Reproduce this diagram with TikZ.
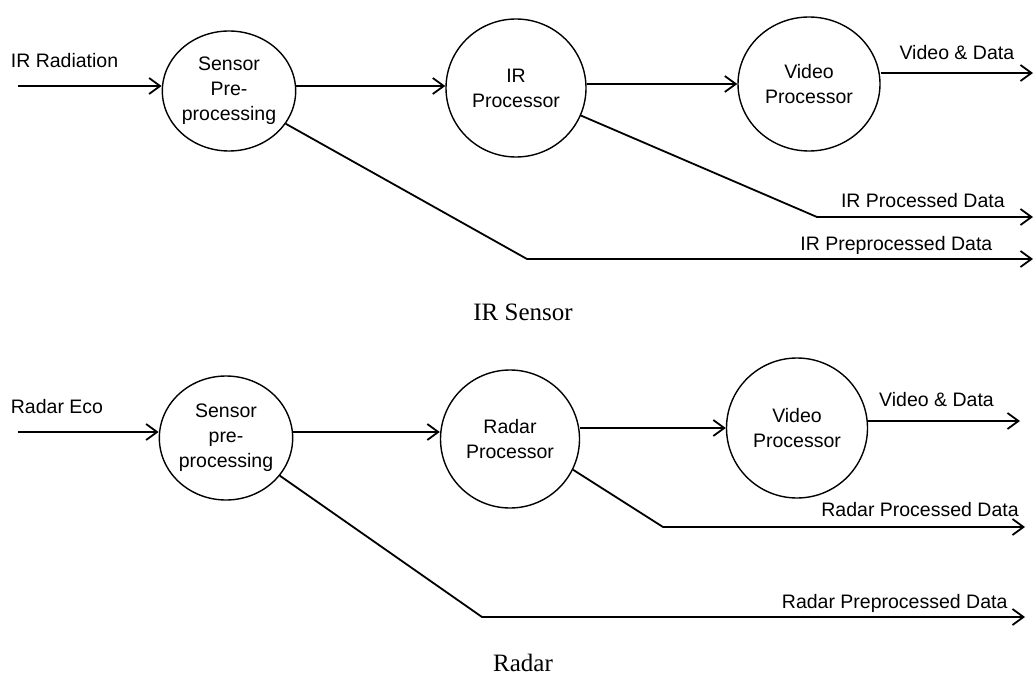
\documentclass[tikz,border=0pt]{standalone}
\usepackage{fontspec}
\setmainfont{Liberation Serif}
\setsansfont{Liberation Sans}
\usetikzlibrary{arrows.meta,shapes.geometric}

\begin{document}
\begin{tikzpicture}[x=1pt, y=-1pt,
    proc/.style={draw, ellipse, line width=1.4pt, inner sep=0pt, align=center,
      font=\sffamily\fontsize{19.5}{25}\selectfont},
    flow/.style={line width=1.8pt, -{Straight Barb[length=11pt,width=16pt]}},
    lbl/.style={font=\sffamily\fontsize{19.5}{24}\selectfont, inner sep=0pt, text depth=0pt},
    sensorcap/.style={font=\fontsize{25}{30}\selectfont}]

    \useasboundingbox (0,0) rectangle (1035,679);

    % IRセンサ
    \node [proc, minimum width=132pt, minimum height=120pt] (irPre) at (229,91) {Sensor\\Pre-\\processing};
    \node [proc, minimum width=140pt, minimum height=138pt] (irProc) at (516,88) {IR\\Processor};
    \node [proc, minimum width=142pt, minimum height=134pt] (irVid) at (809,84) {Video\\Processor};

    \coordinate (irIn) at (18,86);
    \coordinate (irVidE) at (1033,73);
    \coordinate (irProcC) at (817,217);
    \coordinate (irProcE) at (1033,217);
    \coordinate (irPreC) at (527,259);
    \coordinate (irPreE) at (1033,259);

    \draw [flow] (irIn) node [lbl, anchor=base west, xshift=-8pt, yshift=18pt] {IR Radiation}
      -- (irIn -| irPre.west);
    \draw [flow] (irPre.east |- irIn) -- (irProc.west |- irIn);
    \draw [flow] (irProc.east |- irVid) -- (irVid);
    \draw [flow] (irVid.east |- irVidE) -- (irVidE) node [lbl, midway, above=13pt] {Video \& Data};
    \draw [flow] (irProc.-23) -- (irProcC) -- (irProcE) node [lbl, pos=0.49, above=9pt] {IR Processed Data};
    \draw [flow] (irPre.-30) -- (irPreC) -- (irPreE) node [lbl, pos=0.73, above=8pt] {IR Preprocessed Data};

    \node [sensorcap] (irCap) at (523,312) {IR Sensor};

    % レーダ
    \node [proc, minimum width=130pt, minimum height=124pt] (rdPre) at (226,438) {Sensor\\pre-\\processing};
    \node [proc, minimum width=139pt, minimum height=138pt] (rdProc) at (510,439) {Radar\\Processor};
    \node [proc, minimum width=141pt, minimum height=140pt] (rdVid) at (797,428) {Video\\Processor};

    \coordinate (rdIn) at (18,432);
    \coordinate (rdVidE) at (1020,421);
    \coordinate (rdProcC) at (663,527);
    \coordinate (rdProcE) at (1025,527);
    \coordinate (rdPreC) at (482,617);
    \coordinate (rdPreE) at (1025,617);

    \draw [flow] (rdIn) node [lbl, anchor=base west, xshift=-8pt, yshift=19pt] {Radar Eco}
      -- (rdIn -| rdPre.west);
    \draw [flow] (rdPre.east |- rdIn) -- (rdProc.west |- rdIn);
    \draw [flow] (rdProc.east |- rdVid) -- (rdVid);
    \draw [flow] (rdVid.east |- rdVidE) -- (rdVidE) node [lbl, pos=0.45, above=14pt] {Video \& Data};
    \draw [flow] (rdProc.-26) -- (rdProcC) -- (rdProcE) node [lbl, pos=0.71, above=10pt] {Radar Processed Data};
    \draw [flow] (rdPre.-35) -- (rdPreC) -- (rdPreE) node [lbl, pos=0.76, above=8pt] {Radar Preprocessed Data};

    \node [sensorcap] (rdCap) at (523,663) {Radar};

\end{tikzpicture}
\end{document}
